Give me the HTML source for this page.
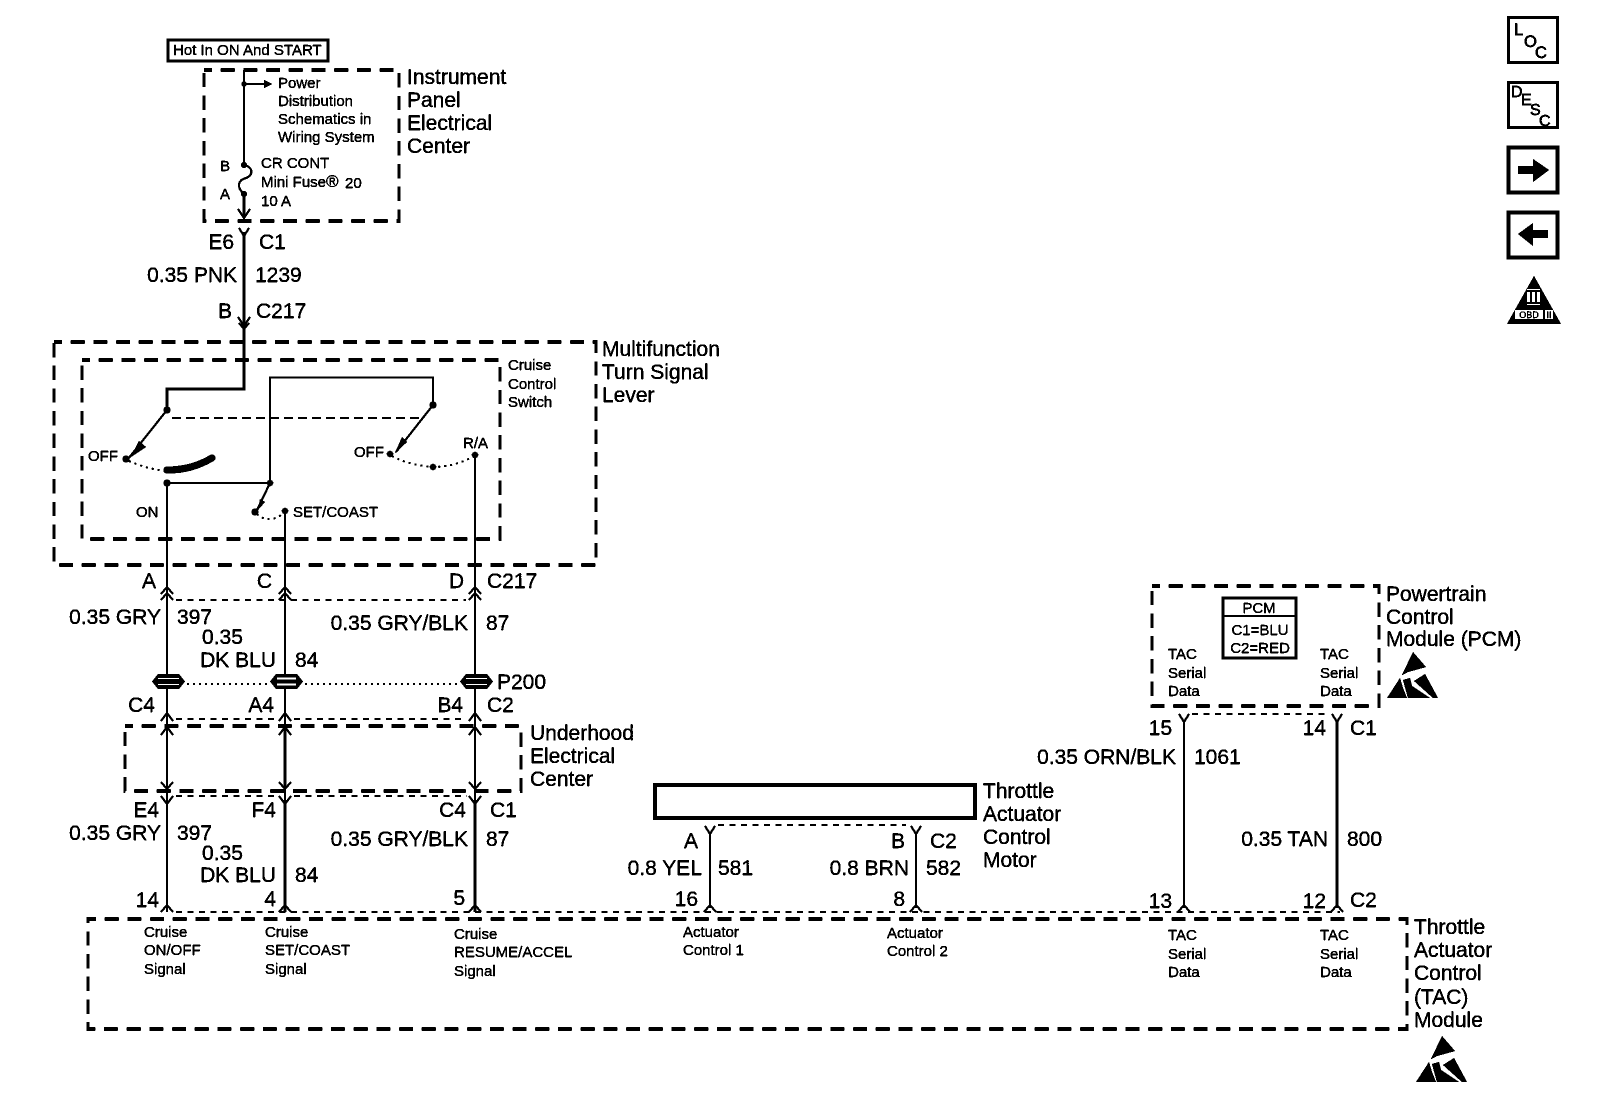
<!DOCTYPE html>
<html><head><meta charset="utf-8"><style>
html,body{margin:0;padding:0;background:#fff}
svg{display:block}
text{font-family:"Liberation Sans",sans-serif;fill:#000;stroke:#000;stroke-width:.2}
.b{font-size:21px}
.s{font-size:15px}
.e{text-anchor:end}
.m{text-anchor:middle}
.w{fill:none;stroke:#000;stroke-width:2}
.n{fill:none;stroke:#000;stroke-width:1.6}
.h{fill:none;stroke:#000;stroke-width:3.2;stroke-dasharray:14 8.7;stroke-dashoffset:6}
.d{fill:none;stroke:#000;stroke-width:1.6;stroke-dasharray:6 5.5}
.o{fill:none;stroke:#000;stroke-width:1.8;stroke-dasharray:2 4}
.k{fill:#000;stroke:none}
</style></head><body>
<svg width="1600" height="1104" viewBox="0 0 1600 1104" xmlns="http://www.w3.org/2000/svg">
<defs>
<filter id="bin" x="0" y="0" width="100%" height="100%" filterUnits="userSpaceOnUse" color-interpolation-filters="sRGB">
<feComponentTransfer>
<feFuncR type="discrete" tableValues="0 0 0 1"/>
<feFuncG type="discrete" tableValues="0 0 0 1"/>
<feFuncB type="discrete" tableValues="0 0 0 1"/>
</feComponentTransfer>
</filter>
</defs>
<g filter="url(#bin)">
<rect width="1600" height="1104" fill="#fff"/>

<!-- dashed boxes -->
<rect class="h" x="204" y="70" width="195" height="151"/>
<rect class="h" x="54" y="342" width="542" height="223"/>
<rect class="h" x="82" y="360" width="418" height="179"/>
<rect class="h" x="125" y="726" width="396" height="65"/>
<rect class="h" x="88" y="919" width="1319" height="110"/>
<rect class="h" x="1152" y="586" width="227" height="120"/>

<!-- Hot box -->
<rect x="168" y="40" width="160" height="21" fill="none" stroke="#000" stroke-width="3"/>
<text class="s" x="173" y="55">Hot In ON And START</text>

<!-- Instrument panel -->
<path class="n" d="M244 70V165"/>
<path class="n" d="M244 84H266"/>
<path class="k" d="M264 80L272 84L264 88Z"/>
<circle class="k" cx="244" cy="84" r="2.6"/>
<circle class="k" cx="244" cy="165" r="3"/>
<circle class="k" cx="244" cy="194" r="3"/>
<path class="w" d="M244 165C254 167 253 176 246 178C238 180 236 187 244 194"/>
<path style="fill:none;stroke:#000;stroke-width:3" d="M244 194V218"/>
<path class="w" d="M238 209L244 218L250 209"/>
<text class="s" x="278" y="88">Power</text>
<text class="s" x="278" y="106">Distribution</text>
<text class="s" x="278" y="124">Schematics in</text>
<text class="s" x="278" y="142">Wiring System</text>
<text class="s" x="261" y="168">CR CONT</text>
<text class="s" x="261" y="187">Mini Fuse</text>
<text class="s" x="326" y="187" style="font-size:17px">®</text>
<text class="s" x="345" y="188">20</text>
<text class="s" x="261" y="206">10 A</text>
<text class="s m" x="225" y="171">B</text>
<text class="s m" x="225" y="199">A</text>
<text class="b" x="407" y="84">Instrument</text>
<text class="b" x="407" y="107">Panel</text>
<text class="b" x="407" y="130">Electrical</text>
<text class="b" x="407" y="153">Center</text>

<!-- 1239 wire -->
<path class="w" d="M239 228L244 236L249 228"/>
<path style="fill:none;stroke:#000;stroke-width:2.6" d="M244 232V389H167V409"/>
<path class="w" d="M238 317L244 326L250 317M239 323L244 329L249 323"/>
<text class="b e" x="234" y="249">E6</text>
<text class="b" x="259" y="249">C1</text>
<text class="b e" x="237" y="282">0.35 PNK</text>
<text class="b" x="255" y="282">1239</text>
<text class="b e" x="232" y="318">B</text>
<text class="b" x="256" y="318">C217</text>

<!-- Multifunction labels -->
<text class="b" x="602" y="356">Multifunction</text>
<text class="b" x="602" y="379">Turn Signal</text>
<text class="b" x="602" y="402">Lever</text>
<text class="s" x="508" y="370">Cruise</text>
<text class="s" x="508" y="389">Control</text>
<text class="s" x="508" y="407">Switch</text>

<!-- Switch -->
<circle class="k" cx="167" cy="410" r="3.5"/>
<path class="w" d="M167 410L128 459"/>
<path class="k" d="M139 441L146 447L131 457Z"/>
<path d="M172 418H420" fill="none" stroke="#000" stroke-width="1.8" stroke-dasharray="9 5"/>
<circle class="k" cx="126" cy="459" r="3.5"/>
<path class="o" d="M129 461C140 466 152 469 164 471"/>
<path d="M167 470C185 470 198 466 212 458" fill="none" stroke="#000" stroke-width="7" stroke-linecap="round"/>
<circle class="k" cx="167" cy="483" r="3.5"/>
<path class="w" d="M167 483H270V377.5H433V405"/>
<circle class="k" cx="270" cy="483" r="3.2"/>
<path class="w" d="M270 483L257 510"/>
<path class="k" d="M260 499L265 502L258 510Z"/>
<circle class="k" cx="255" cy="512" r="3.5"/>
<circle class="k" cx="285" cy="511" r="3.2"/>
<path class="o" d="M257 514C264 522 278 520 284 512"/>
<circle class="k" cx="433" cy="405" r="3.5"/>
<path class="w" d="M433 405L396 452"/>
<path class="k" d="M402 437L407 442L395 453Z"/>
<circle class="k" cx="390" cy="454" r="3.2"/>
<circle class="k" cx="433" cy="467" r="3.2"/>
<circle class="k" cx="475" cy="455" r="3.2"/>
<path class="o" d="M392 456C405 463 420 466 433 467C448 467 462 463 474 456"/>
<text class="s" x="88" y="461">OFF</text>
<text class="s" x="354" y="457">OFF</text>
<text class="s" x="463" y="448">R/A</text>
<text class="s" x="136" y="517">ON</text>
<text class="s" x="293" y="517">SET/COAST</text>

<!-- vertical wires A/C/D -->
<path class="w" d="M167 483V912"/>
<path class="w" d="M285 511V912"/>
<path class="w" d="M475 455V912"/>
<path style="fill:none;stroke:#000;stroke-width:3" d="M285 730V788"/>
<path style="fill:none;stroke:#000;stroke-width:2.6" d="M285 800V912M475 800V912"/>

<!-- C217 chevrons -->
<path class="w" d="M161 594L167 587L173 594M161 600L167 593L173 600"/>
<path class="w" d="M279 594L285 587L291 594M279 600L285 593L291 600"/>
<path class="w" d="M469 594L475 587L481 594M469 600L475 593L481 600"/>
<path class="d" d="M176 600H466"/>
<text class="b e" x="156" y="588">A</text>
<text class="b e" x="272" y="588">C</text>
<text class="b e" x="464" y="588">D</text>
<text class="b" x="487" y="588">C217</text>
<text class="b e" x="161" y="624">0.35 GRY</text>
<text class="b" x="177" y="624">397</text>
<text class="b" x="202" y="644">0.35</text>
<text class="b e" x="276" y="667">DK BLU</text>
<text class="b" x="295" y="667">84</text>
<text class="b e" x="468" y="630">0.35 GRY/BLK</text>
<text class="b" x="486" y="630">87</text>

<!-- P200 -->
<path class="k" d="M152 681.5L158 674H179L185 681.5L179 689H158Z"/>
<path d="M158 678.5H179M158 684.5H179" stroke="#fff" stroke-width="1.5"/>
<path class="k" d="M270 681.5L276 674H297L303 681.5L297 689H276Z"/>
<path d="M277 678.5H296M277 684.5H296" stroke="#fff" stroke-width="2.2"/>
<path class="k" d="M460 681.5L466 674H487L493 681.5L487 689H466Z"/>
<path d="M466 678.5H487M466 684.5H487" stroke="#fff" stroke-width="1.5"/>
<path class="o" d="M187 684H268M305 684H458"/>
<text class="b" x="497" y="689">P200</text>
<text class="b e" x="155" y="712">C4</text>
<text class="b e" x="274" y="712">A4</text>
<text class="b e" x="463" y="712">B4</text>
<text class="b" x="487" y="712">C2</text>

<!-- Underhood chevrons -->
<path class="w" d="M161 721L167 713L173 721"/>
<path class="w" d="M279 721L285 713L291 721"/>
<path class="w" d="M469 721L475 713L481 721"/>
<path class="d" d="M176 719H276M294 719H466"/>
<path class="w" d="M161 735L167 727L173 735"/>
<path class="w" d="M279 735L285 727L291 735"/>
<path class="w" d="M469 735L475 727L481 735"/>
<path class="w" d="M161 782L167 789L173 782"/>
<path class="w" d="M279 782L285 789L291 782"/>
<path class="w" d="M469 782L475 789L481 782"/>
<path class="w" d="M161 796L167 804L173 796"/>
<path class="w" d="M279 796L285 804L291 796"/>
<path class="w" d="M469 796L475 804L481 796"/>
<path class="d" d="M176 796H277M294 796H467"/>
<text class="b" x="530" y="740">Underhood</text>
<text class="b" x="530" y="763">Electrical</text>
<text class="b" x="530" y="786">Center</text>

<text class="b e" x="159" y="817">E4</text>
<text class="b e" x="276" y="817">F4</text>
<text class="b e" x="466" y="817">C4</text>
<text class="b" x="490" y="817">C1</text>
<text class="b e" x="161" y="840">0.35 GRY</text>
<text class="b" x="177" y="840">397</text>
<text class="b" x="202" y="860">0.35</text>
<text class="b e" x="276" y="882">DK BLU</text>
<text class="b" x="295" y="882">84</text>
<text class="b e" x="468" y="846">0.35 GRY/BLK</text>
<text class="b" x="486" y="846">87</text>
<text class="b e" x="159" y="907">14</text>
<text class="b e" x="276" y="906">4</text>
<text class="b e" x="465" y="905">5</text>

<!-- bottom chevrons and dashed -->
<path class="d" d="M176 912H1340"/>
<path class="w" d="M161 912L167 905L173 912"/>
<path class="w" d="M279 912L285 905L291 912"/>
<path class="w" d="M469 912L475 905L481 912"/>
<path class="w" d="M704 912L710 905L716 912"/>
<path class="w" d="M910 912L916 905L922 912"/>
<path class="w" d="M1178 912L1184 905L1190 912"/>
<path class="w" d="M1331 912L1337 905L1343 912"/>

<!-- Motor -->
<rect x="655" y="785" width="320" height="33" fill="none" stroke="#000" stroke-width="4"/>
<text class="b" x="983" y="798">Throttle</text>
<text class="b" x="983" y="821">Actuator</text>
<text class="b" x="983" y="844">Control</text>
<text class="b" x="983" y="867">Motor</text>
<path class="w" d="M705 826L710 834L715 826"/>
<path class="w" d="M911 826L916 834L921 826"/>
<path class="d" d="M718 825H906"/>
<path class="w" d="M710 832V908M916 832V908"/>
<text class="b e" x="698" y="848">A</text>
<text class="b e" x="905" y="848">B</text>
<text class="b" x="930" y="848">C2</text>
<text class="b e" x="702" y="875">0.8 YEL</text>
<text class="b" x="718" y="875">581</text>
<text class="b e" x="909" y="875">0.8 BRN</text>
<text class="b" x="926" y="875">582</text>
<text class="b e" x="698" y="906">16</text>
<text class="b e" x="905" y="906">8</text>

<!-- PCM -->
<rect x="1223" y="598" width="73" height="60" fill="none" stroke="#000" stroke-width="2.8"/>
<path d="M1223 616H1296" stroke="#000" stroke-width="1.6"/>
<text class="s m" x="1259" y="613">PCM</text>
<text class="s m" x="1260" y="635">C1=BLU</text>
<text class="s m" x="1260" y="653">C2=RED</text>
<text class="s" x="1168" y="659">TAC</text>
<text class="s" x="1168" y="678">Serial</text>
<text class="s" x="1168" y="696">Data</text>
<text class="s" x="1320" y="659">TAC</text>
<text class="s" x="1320" y="678">Serial</text>
<text class="s" x="1320" y="696">Data</text>
<text class="b" x="1386" y="601">Powertrain</text>
<text class="b" x="1386" y="624">Control</text>
<text class="b" x="1386" y="646">Module (PCM)</text>
<path class="w" d="M1179 714L1184 722L1189 714"/>
<path class="w" d="M1332 714L1337 722L1342 714"/>
<path class="d" d="M1192 714H1330"/>
<path class="w" d="M1184 720V908"/>
<path style="fill:none;stroke:#000;stroke-width:2.6" d="M1337 720V908"/>
<text class="b e" x="1172" y="735">15</text>
<text class="b e" x="1326" y="735">14</text>
<text class="b" x="1350" y="735">C1</text>
<text class="b e" x="1176" y="764">0.35 ORN/BLK</text>
<text class="b" x="1194" y="764">1061</text>
<text class="b e" x="1328" y="846">0.35 TAN</text>
<text class="b" x="1347" y="846">800</text>
<text class="b e" x="1172" y="908">13</text>
<text class="b e" x="1326" y="908">12</text>
<text class="b" x="1350" y="907">C2</text>

<!-- TAC module text -->
<text class="s" x="144" y="937">Cruise</text>
<text class="s" x="144" y="955">ON/OFF</text>
<text class="s" x="144" y="974">Signal</text>
<text class="s" x="265" y="937">Cruise</text>
<text class="s" x="265" y="955">SET/COAST</text>
<text class="s" x="265" y="974">Signal</text>
<text class="s" x="454" y="939">Cruise</text>
<text class="s" x="454" y="957">RESUME/ACCEL</text>
<text class="s" x="454" y="976">Signal</text>
<text class="s" x="683" y="937">Actuator</text>
<text class="s" x="683" y="955">Control 1</text>
<text class="s" x="887" y="938">Actuator</text>
<text class="s" x="887" y="956">Control 2</text>
<text class="s" x="1168" y="940">TAC</text>
<text class="s" x="1168" y="959">Serial</text>
<text class="s" x="1168" y="977">Data</text>
<text class="s" x="1320" y="940">TAC</text>
<text class="s" x="1320" y="959">Serial</text>
<text class="s" x="1320" y="977">Data</text>
<text class="b" x="1414" y="934">Throttle</text>
<text class="b" x="1414" y="957">Actuator</text>
<text class="b" x="1414" y="980">Control</text>
<text class="b" x="1414" y="1004">(TAC)</text>
<text class="b" x="1414" y="1027">Module</text>

<!-- ESD icons -->
<g class="k">
<path d="M1413 652L1402 675L1408 672L1426 667Z"/>
<path d="M1387 698L1400 678L1403 688L1407 698Z"/>
<path d="M1408 698L1403 680L1410 678L1412 686L1430 698Z"/>
<path d="M1414 681L1425 674L1438 698L1433 698Z"/>
</g>
<g class="k" transform="translate(29 384)">
<path d="M1413 652L1402 675L1408 672L1426 667Z"/>
<path d="M1387 698L1400 678L1403 688L1407 698Z"/>
<path d="M1408 698L1403 680L1410 678L1412 686L1430 698Z"/>
<path d="M1414 681L1425 674L1438 698L1433 698Z"/>
</g>

<!-- Right icons -->
<g fill="#fff" stroke="#000">
<rect x="1508.5" y="17.5" width="49" height="45" stroke-width="3"/>
<rect x="1508.5" y="82.5" width="49" height="45" stroke-width="3"/>
<rect x="1508.5" y="147.5" width="49" height="45" stroke-width="3.5"/>
<rect x="1508.5" y="212.5" width="49" height="45" stroke-width="3.5"/>
</g>
<text class="s" style="font-size:16.5px;stroke-width:.5" x="1514" y="35">L</text>
<text class="s" style="font-size:16.5px;stroke-width:.5" x="1524" y="47">O</text>
<text class="s" style="font-size:16.5px;stroke-width:.5" x="1535" y="58">C</text>
<text class="s" style="font-size:16px;stroke-width:.5" x="1511" y="97">D</text>
<text class="s" style="font-size:16px;stroke-width:.5" x="1521" y="105">E</text>
<text class="s" style="font-size:16px;stroke-width:.5" x="1530" y="115">S</text>
<text class="s" style="font-size:16px;stroke-width:.5" x="1539" y="126">C</text>
<path class="k" d="M1518 166H1533V159L1549 170L1533 182V174H1518Z"/>
<path class="k" d="M1548 230H1533V223L1518 234L1533 246V238H1548Z"/>
<path class="k" d="M1534 276L1507 324H1561Z"/>
<rect x="1527" y="289" width="13" height="16" fill="#fff"/>
<path d="M1531 291V303M1536 291V303" stroke="#000" stroke-width="2"/>
<path d="M1527 291H1540M1527 303H1540" stroke="#000" stroke-width="1.5"/>
<rect x="1515" y="310" width="28" height="9" fill="#fff"/>
<text x="1529" y="318" class="m" style="font-size:9px">OBD</text>
<rect x="1545" y="310" width="8" height="9" fill="#fff"/>
<text x="1549" y="318" class="m" style="font-size:9px">II</text>
</g>
</svg>
</body></html>
